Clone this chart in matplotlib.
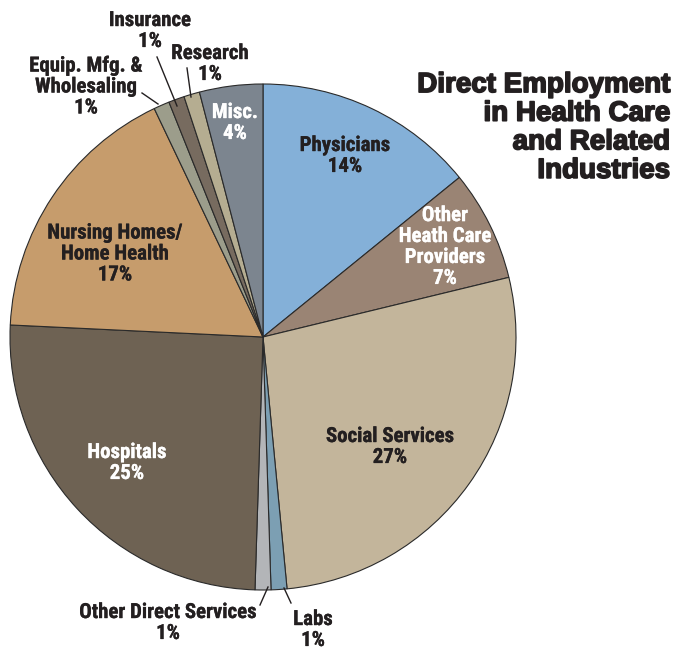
import matplotlib
matplotlib.use("Agg")
import matplotlib.pyplot as plt
from matplotlib import font_manager
import matplotlib.patheffects as pe

categories = ["Physicians", "Other Heath Care Providers", "Social Services", "Labs",
              "Other Direct Services", "Hospitals", "Nursing Homes/Home Health",
              "Equip. Mfg. & Wholesaling", "Insurance", "Research", "Misc."]
values = [14, 7, 27, 1, 1, 25, 17, 1, 1, 1, 4]
colors = ["#84b0d8", "#9a8474", "#c3b59b", "#7c9fb3", "#b3b5b8", "#6e6253",
          "#c69c6c", "#9c9d8b", "#776b5f", "#b5ad91", "#7c858f"]
label_texts = ["Physicians\n14%", "Other\nHeath Care\nProviders\n7%", "Social Services\n27%",
               "Labs\n1%", "Other Direct Services\n1%", "Hospitals\n25%",
               "Nursing Homes/\nHome Health\n17%", "Equip. Mfg. &\nWholesaling\n1%",
               "Insurance\n1%", "Research\n1%", "Misc.\n4%"]
label_colors = ["#231f20", "white", "#231f20", "#231f20", "#231f20", "white",
                "#231f20", "#231f20", "#231f20", "#231f20", "white"]
title = "Direct Employment\nin Health Care\nand Related\nIndustries"

names = {f.name for f in font_manager.fontManager.ttflist}
if "Liberation Sans Narrow" in names:
    label_font = ["Liberation Sans Narrow", "DejaVu Sans"]
elif "Roboto Condensed" in names:
    label_font = ["Roboto Condensed", "DejaVu Sans"]
else:
    label_font = ["Roboto", "DejaVu Sans"]

W, H = 676, 650
fig = plt.figure(figsize=(W / 100, H / 100), dpi=100)
ax = fig.add_axes([0, 0, 1, 1])
ax.set_aspect("equal")

cx, cy, r = 263, H - 337, 253
ax.pie(values, colors=colors, startangle=90, counterclock=False, center=(cx, cy),
       radius=r, frame=True,
       wedgeprops=dict(edgecolor="#2a2a2a", linewidth=0.8))
ax.set_xlim(0, W)
ax.set_ylim(0, H)
ax.axis("off")

# label positions (pixel coords, top-left origin)
pos = [(345, 156), (445, 247), (390, 447), (313, 630), (168, 623), (127, 463),
       (115, 254), (86, 87), (150, 31), (210, 64), (235, 123)]
for (x, y), t, c in zip(pos, label_texts, label_colors):
    ax.text(x, H - y, t, ha="center", va="center", color=c, fontsize=15,
            fontweight="bold", family=label_font, linespacing=1.13,
            path_effects=[pe.withStroke(linewidth=0.2, foreground=c)])

# leader lines
leaders = [((142, 93), (158, 104)), ((157, 57), (177, 106)), ((187, 68), (191, 97)),
           ((260, 605), (268, 587)), ((291, 603), (284, 588))]
for (x0, y0), (x1, y1) in leaders:
    ax.plot([x0, x1], [H - y0, H - y1], color="#231f20", lw=1.0)

ax.text(670, H - 128, title, ha="right", va="center", fontsize=20, fontweight="bold",
        family=["Liberation Sans", "DejaVu Sans"], color="#231f20", linespacing=1.13,
        path_effects=[pe.withStroke(linewidth=1.2, foreground="#231f20")])

fig.savefig("out.png", dpi=100)
